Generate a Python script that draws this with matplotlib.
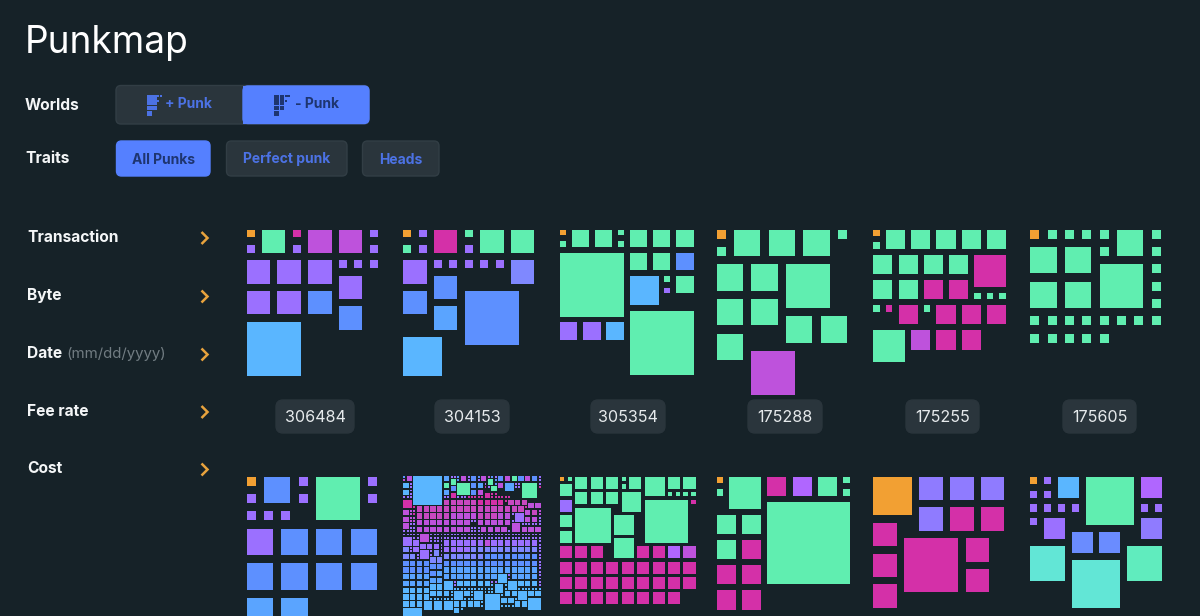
import matplotlib
matplotlib.use("Agg")
import matplotlib.pyplot as plt
from matplotlib.patches import Rectangle, FancyBboxPatch

plt.rcParams['font.family'] = ['Inter', 'DejaVu Sans']

# ---------- data: each token is <cell units><group>; "*n" repeats, 0 is an empty cell
PANEL_306484 = ["1O 2G 1M 2V 2V 1P", "1P 1P 1P", "2P 2P 2P 1P 1P 1P", "2P", "2P 2P 2B", "2B", "4L"]
PANEL_304153 = ["1O 1P 2M 1G 2G 2G", "1G 1P 1P", "2P 1P*5 2I", "2B", "2B 4B", "2C", "", "3L"]
PANEL_305354 = ["1O 2G 2G 1G 2G 2G 2G", "1G 1G", "6G 2G 2G 2B", "", "3L 1G 2G", "1P", "", "6G", "2P 2P 2L"]
PANEL_175288 = ["1O 2G 2G 2G 1G", "1G", "2G 2G 3G", "", "2G 2G", "2G 2G", "2G", "3V"]
PANEL_175255 = ["1O 2G*5", "1G", "2G*4 3M", "", "2G 2G 2M 2M", "1G*3", "1G 1M 2M 1G 2M 2M 2M", "", "3G 2V 2M 2M"]
PANEL_175605 = ["1O 1G*4 2G 1G", "2G 2G 1G 1G", "3G 1G", "2G 2G 1G", "1G", "1G*8", "1G*5"]
PANEL_R2A = ["1O 2B 1P 3G 1P", "1P 1P 1P", "1P 1P 1P", "2P 2B 2B 2B", "", "2B*4", "", "2C 2C"]
PANEL_R2B = [
    "1B 2V 9L 2C 1P 1P 1B 2V 1P 2B 1B 2V 1V 1B 1P 2B 2V 2G 2B 2V 2B 1P",
    "1V 2G 1B 1P 1P 2G 1B 1P",
    "2L 1P 2G 4G 2B 2C 1P 1B 2V 3C 1P 1P 5G 1P",
    "1P 2B 1M 1P 2G 1P 1P 1M",
    "2L 1P 2C 2B 2V 4G 2M 2M 1M",
    "1P 2M 2M 1M 1M",
    "1P*3 1P*5 1M*5 1M*6",
    "3M 2N*5 2M*4 1M 2N*3",
    "2V 2V 1M",
    "1M 2N*4 2N*5 2N*7 1M",
    "2V 1V 1V 2V 2N 1V",
    "1V 1M 2N*5 2V*4 2N*3 2V*2 1P 3P 1V",
    "2V 1V 1V 2V 2V 1P 1V",
    "1V 1V 2V*8 1P 1P 2V*5 1P 1P",
    "2V 1P 1P 3V 1P*8",
    "1P 1P 2V*8 1P*3 2V*7 1P",
    "1P*8",
    "1P*5 3V 1P*33",
    "3P 1P*2 1P*33",
    "2P 1P*4 2P*6 2V 2P*7 1P",
    "2P 2P 2P 1P 1P",
    "2I 1P 2P 1P 2P*4 2I*10 1P",
    "1P 3P 1P 2I 1P 1P",
    "2I*2 1P*3 2I*6 2B*8 1P",
    "1P 2I 2I 1P",
    "2B*18 1P",
    "2B 2B 1P",
    "2B*4 2C*14 1P",
    "2B 2C 1P",
    "2C*12 3L 1P 2C*4 1P",
    "2C 2C 1P 1P",
    "2C*4 3L 1P 2L*5 1P 1P 3L 2L*3 1P",
    "2L 2L 1P 1L 3L 1L 1P",
    "2L*4 1L*20",
    "2L 2L 2L 1L 3L 2L 1L 3L 1L*3 2L 2L 3L 2L 2L",
    "2L*4 1L 1L 5L 1L",
    "1L*10 2L 2L 1L 4L",
    "2L*3 3L*3 2L*4 1L 2L 2L",
    "1L 1L*4",
    "6L 2L 1L",
]
PANEL_R2C = ["1O 1G 2G 2G 2G 1G 2G 3G 2G 2G", "2G 1G", "2G 2G 2G 3G 1G*4", "2P 6G 1M", "5G", "2G 3G", "",
             "2G", "3G", "2M 2M 2M 0. 2M 2M 2A 2V", "", "2M*9", "", "2M*9", "", "2M*8"]
PANEL_R2D = ["1O 3G 2M 2A 2G 1G", "1G 1G", "0. 7G", "2G 2G", "", "2G 2M", "", "2M 2M", "", "2M 2M"]
PANEL_R2E = ["3O 2J 2J 2J", "", "2J 2M 2M", "2M", "4M 2M", "2M", "2M", "2M"]
PANEL_R2F = ["1O 1P 2L 4G 2A", "1P 1P", "1P*6", "1P 2P 0. 2J", "0. 2D 2D", "3T 3U", "4T"]
ICON_CELLS = ["2K 2K 1K 1K", "", "2K 2K 1K", "", "2K 2K", "", "2K"]

PANEL_IDS = ["306484", "304153", "305354", "175288", "175255", "175605"]
WORLD_LABELS = ["+ Punk", "- Punk"]
TRAIT_LABELS = ["All Punks", "Perfect punk", "Heads"]
FILTER_LABELS = ["Transaction", "Byte", "Date", "Fee rate", "Cost"]

# ---------- styling and layout
BG = "#162228"
PALETTE = dict(O="#F2A033", G="#60EEB0", M="#D430A8", N="#C848C0", V="#BE52DC", A="#B066FF", P="#9B70FF",
               I="#7F88FF", J="#8F7BFF", D="#6A8CFF", B="#5D90FF", C="#5AA4FF", L="#5AB6FF",
               T="#62E6D6", U="#60ECBE")
PANEL_LAYOUT = [
    (PANEL_306484, 9, 246.7, 229.5, 131, .48), (PANEL_304153, 9, 403.3, 229.5, 131, .48),
    (PANEL_305354, 12, 560.0, 229.5, 133.5, .5), (PANEL_175288, 8, 716.7, 229.5, 130.5, .48),
    (PANEL_175255, 11, 873.3, 229.5, 132.7, .48), (PANEL_175605, 8, 1030.3, 229.5, 130.5, .48),
    (PANEL_R2A, 8, 246.7, 476.7, 130.5, .48), (PANEL_R2B, 41, 403.3, 476.0, 137.3, .42),
    (PANEL_R2C, 18, 560.0, 476.7, 135.5, .44), (PANEL_R2D, 11, 716.7, 476.7, 133, .48),
    (PANEL_R2E, 9, 873.3, 476.7, 131, .48), (PANEL_R2F, 10, 1030.3, 476.7, 131.7, .48),
]

fig = plt.figure(figsize=(12, 6.16), dpi=100, facecolor=BG)
ax = fig.add_axes([0, 0, 1, 1])
ax.set_xlim(0, 1200)
ax.set_ylim(616, 0)
ax.axis("off")


def expand(row):
    out = []
    for tok in row.split():
        if "*" in tok:
            t, n = tok.split("*")
            out += [t] * int(n)
        else:
            out.append(tok)
    return out


def draw_cells(rows, n, x0, y0, width, g, palette):
    pitch = width / (n - g)
    gap = g * pitch
    taken = set()
    for r, row in enumerate(rows):
        c = 0
        for tok in expand(row):
            k = int(tok[:-1])
            span = max(k, 1)
            while c < n and ((r, c) in taken or c + span > n or
                             any((r + i, c + j) in taken for i in range(span) for j in range(span))):
                c += 1
            if c >= n:
                break
            for i in range(span):
                for j in range(span):
                    taken.add((r + i, c + j))
            if k:
                ax.add_patch(Rectangle((x0 + c * pitch, y0 + r * pitch), k * pitch - gap, k * pitch - gap,
                                       facecolor=palette[tok[-1]], edgecolor="none", zorder=3))
            c += span


for rows, n, x0, y0, w, g in PANEL_LAYOUT:
    draw_cells(rows, n, x0, y0, w, g, PALETTE)


def box(x0, y0, x1, y1, face, edge="#323E45", r=5, z=1):
    ax.add_patch(FancyBboxPatch((x0, y0), x1 - x0, y1 - y0, boxstyle=f"round,pad=0,rounding_size={r}",
                                facecolor=face, edgecolor=edge, linewidth=1, zorder=z, mutation_aspect=1))


DARK = "#2A353C"
BLUE = "#5580FF"
TXT_B = "#4C72E4"
TXT_D = "#1E3570"
WHITE = "#F4F6F7"

ax.text(25, 53, "Punkmap", fontsize=26.7, color="white", va="baseline", ha="left")

ax.text(25, 110.5, "Worlds", fontsize=11.2, color=WHITE, weight="bold", va="baseline")
ax.text(25, 163, "Traits", fontsize=11.2, color=WHITE, weight="bold", va="baseline")

box(116, 85.5, 369, 124, DARK)
box(243, 86, 369, 123.5, BLUE, edge=BLUE, z=2)
ax.add_patch(Rectangle((243, 86), 8, 37.5, facecolor=BLUE, edgecolor="none", zorder=2))
draw_cells(ICON_CELLS, 7, 146.7, 95, 18, .15, dict(K=TXT_B))
draw_cells(ICON_CELLS, 7, 274.3, 95, 18, .15, dict(K=TXT_D))
ax.text(165, 108.5, WORLD_LABELS[0], fontsize=10, color=TXT_B, weight="bold", va="baseline", zorder=4)
ax.text(295, 108.5, WORLD_LABELS[1], fontsize=10, color=TXT_D, weight="bold", va="baseline", zorder=4)

for (x0, x1), label, on in zip([(116.5, 210), (226.5, 347), (362.5, 439)], TRAIT_LABELS, [True, False, False]):
    box(x0, 141, x1, 176, BLUE if on else DARK, edge=BLUE if on else "#323E45")
    ax.text((x0 + x1) / 2, 163.5, label, fontsize=10, color=TXT_D if on else TXT_B, weight="bold",
            ha="center", va="baseline", zorder=4)

for y, label in zip([241.5, 300, 358, 415.5, 473], FILTER_LABELS):
    ax.text(27, y, label, fontsize=11.2, color=WHITE, weight="bold", va="baseline")
    ax.plot([201.5, 207.5, 201.5], [y - 9.5, y - 3.5, y + 2.5], color="#E8A33D", lw=1.8,
            solid_capstyle="butt", solid_joinstyle="miter")
ax.text(66.5, 358, "(mm/dd/yyyy)", fontsize=10.8, color="#717C82", va="baseline")

for (x0, x1), label in zip([(276, 354), (435, 509), (591, 665), (748, 822), (906, 979), (1063, 1136)], PANEL_IDS):
    box(x0, 400, x1, 433, DARK, edge=DARK, r=7)
    ax.text((x0 + x1) / 2, 422, label, fontsize=11.6, color="#E6EAEC", ha="center", va="baseline", zorder=4)

fig.savefig("out.png", dpi=100, facecolor=BG)
